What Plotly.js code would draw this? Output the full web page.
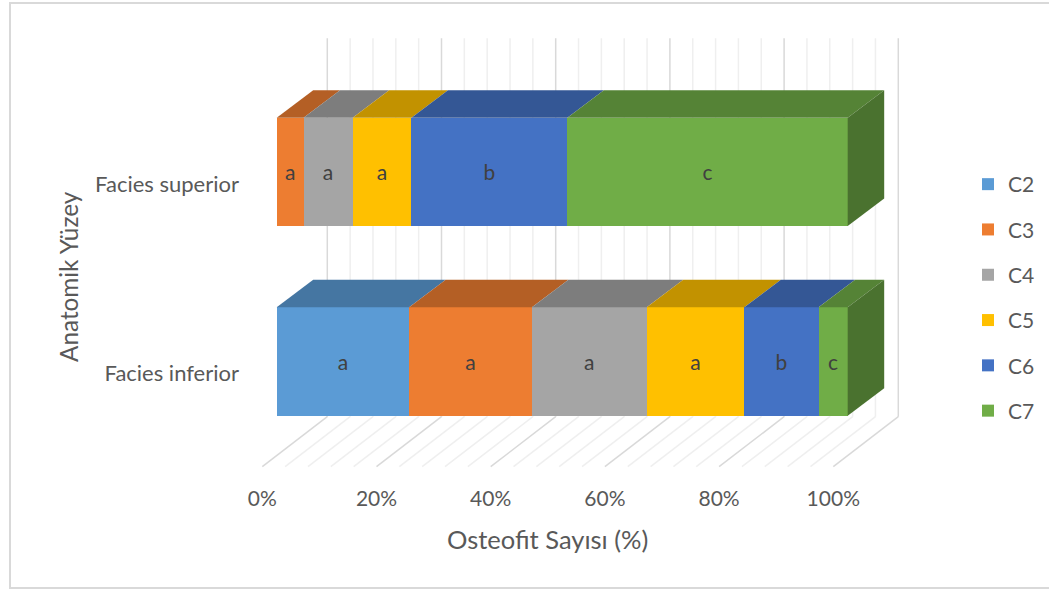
<!DOCTYPE html>
<html>
<head>
<meta charset="utf-8">
<script src="https://cdn.plot.ly/plotly-3.0.1.min.js"></script>
<style>
  html, body { margin: 0; padding: 0; background: #ffffff; overflow: hidden; }
  #chart { width: 1049px; height: 589px; }
</style>
</head>
<body>
<div id="chart"></div>
<script>
// ---- data -------------------------------------------------------------
const categories = ['Facies inferior', 'Facies superior'];
const seriesNames = ['C2', 'C3', 'C4', 'C5', 'C6', 'C7'];

// share of osteophytes (%) per anatomical surface
const c2 = [23.2, 0];
const c3 = [21.5, 4.7];
const c4 = [20.1, 8.6];
const c5 = [17.1, 10.3];
const c6 = [13.0, 27.3];
const c7 = [5.1, 49.1];

// significance letters shown on each segment
const c2Letters = ['a', ''];
const c3Letters = ['a', 'a'];
const c4Letters = ['a', 'a'];
const c5Letters = ['a', 'a'];
const c6Letters = ['b', 'b'];
const c7Letters = ['c', 'c'];

const xTickVals = [0, 20, 40, 60, 80, 100];
const xTickText = ['0%', '20%', '40%', '60%', '80%', '100%'];

const xTitle = 'Osteofit Sayısı (%)';
const yTitle = 'Anatomik Yüzey';

// ---- styling ------------------------------------------------------------
const series = [c2, c3, c4, c5, c6, c7];
const letters = [c2Letters, c3Letters, c4Letters, c5Letters, c6Letters, c7Letters];
const frontColors = ['#5B9BD5', '#ED7D31', '#A5A5A5', '#FFC000', '#4472C4', '#70AD47'];

function shade(hex, f) {
  const n = parseInt(hex.slice(1), 16);
  const r = Math.round(((n >> 16) & 255) * f);
  const g = Math.round(((n >> 8) & 255) * f);
  const b = Math.round((n & 255) * f);
  return 'rgb(' + r + ',' + g + ',' + b + ')';
}
const topColors = frontColors.map(c => shade(c, 0.76));
const sideColors = frontColors.map(c => shade(c, 0.66));

const FONT = 'Lato, "Open Sans", sans-serif';
const TEXT_GRAY = '#595959';

// ---- frame geometry (pixels) -----------------------------------------------
const W = 1049, H = 589;
const PLOT = { l: 250, r: 910, t: 30, b: 470 };
const FRONT_ZERO_PX = 276.7;      // 0 % on the bars' front plane
const PX_PER_PCT = 5.71;
const ROW0_PX = 361.5;            // centre of the first row's front face
const ROW_STEP_PX = 189.6;
const BAR_THICK_PX = 108.3;
const DEPTH_DX_PX = 36.5, DEPTH_DY_PX = 27.5;       // bar depth
const WALL_DX_PX = 50.6, WALL_TOP_PX = 38.3, WALL_BOTTOM_PX = 416.7;
const FLOOR_DX_PX = -14.4, FLOOR_FRONT_PX = 466.7;
const ROW_LABEL_SHIFT_PX = 12;

const xu = px => px / PX_PER_PCT;
const yAt = py => (ROW0_PX - py) / ROW_STEP_PX;
const paperX = px => (px - PLOT.l) / (PLOT.r - PLOT.l);
const paperY = py => (PLOT.b - py) / (PLOT.b - PLOT.t);

const xRange = [xu(PLOT.l - FRONT_ZERO_PX), xu(PLOT.r - FRONT_ZERO_PX)];
const yRange = [yAt(PLOT.b), yAt(PLOT.t)];
const barWidth = BAR_THICK_PX / ROW_STEP_PX;
const dX = xu(DEPTH_DX_PX), dY = DEPTH_DY_PX / ROW_STEP_PX;
const rowPos = categories.map((_, i) => i);

// ---- traces: front faces of the stacked bars ------------------------------
const traces = series.map((vals, s) => ({
  type: 'bar',
  orientation: 'h',
  name: seriesNames[s],
  legendgroup: seriesNames[s],
  y: rowPos,
  x: vals,
  width: barWidth,
  text: letters[s],
  textposition: 'inside',
  insidetextanchor: 'middle',
  textangle: 0,
  constraintext: 'none',
  textfont: { family: FONT, size: 21, color: '#404040' },
  marker: { color: frontColors[s], line: { width: 0 } },
  hoverinfo: 'skip'
}));

// ---- shapes: wall / floor grid, bar tops and end faces -----------------------
const shapes = [];

for (let v = 0; v <= 100; v += 4) {
  const major = v % 20 === 0;
  const col = major ? '#d9d9d9' : '#efefef';
  const xb = v + xu(WALL_DX_PX);
  shapes.push({ type: 'line', layer: 'below', xref: 'x', yref: 'y',
    x0: xb, x1: xb, y0: yAt(WALL_BOTTOM_PX), y1: yAt(WALL_TOP_PX),
    line: { color: col, width: 1.5 } });
  shapes.push({ type: 'line', layer: 'below', xref: 'x', yref: 'y',
    x0: xb, y0: yAt(WALL_BOTTOM_PX), x1: v + xu(FLOOR_DX_PX), y1: yAt(FLOOR_FRONT_PX),
    line: { color: col, width: 1.5 } });
}

rowPos.forEach(r => {
  let cum = 0, last = -1, lastEnd = 0;
  const yTop = r + barWidth / 2, yBot = r - barWidth / 2;
  series.forEach((vals, s) => {
    const v = vals[r];
    if (v > 0) {
      const x0 = cum, x1 = cum + v;
      shapes.push({ type: 'path', layer: 'above', xref: 'x', yref: 'y',
        path: 'M' + x0 + ',' + yTop + ' L' + x1 + ',' + yTop +
              ' L' + (x1 + dX) + ',' + (yTop + dY) + ' L' + (x0 + dX) + ',' + (yTop + dY) + ' Z',
        fillcolor: topColors[s], line: { width: 0 } });
      last = s; lastEnd = x1;
    }
    cum += v;
  });
  if (last >= 0) {
    shapes.push({ type: 'path', layer: 'above', xref: 'x', yref: 'y',
      path: 'M' + lastEnd + ',' + yBot + ' L' + lastEnd + ',' + yTop +
            ' L' + (lastEnd + dX) + ',' + (yTop + dY) + ' L' + (lastEnd + dX) + ',' + (yBot + dY) + ' Z',
      fillcolor: sideColors[last], line: { width: 0 } });
  }
});

// outer chart frame
shapes.push({ type: 'rect', xref: 'paper', yref: 'paper', layer: 'below',
  x0: paperX(10), x1: paperX(1070), y0: paperY(588), y1: paperY(3),
  line: { color: '#d9d9d9', width: 2 }, fillcolor: 'rgba(0,0,0,0)' });

// axis titles, centred on the floor's front edge and on the wall height
const annotations = [
  { text: xTitle, xref: 'paper', yref: 'paper',
    x: paperX(FRONT_ZERO_PX + FLOOR_DX_PX + 50 * PX_PER_PCT), y: paperY(539),
    xanchor: 'center', yanchor: 'middle', showarrow: false,
    font: { family: FONT, size: 25.5, color: TEXT_GRAY } },
  { text: yTitle, xref: 'paper', yref: 'paper',
    x: paperX(68), y: paperY(277), textangle: -90,
    xanchor: 'center', yanchor: 'middle', showarrow: false,
    font: { family: FONT, size: 24.3, color: TEXT_GRAY } }
];

// ---- layout ----------------------------------------------------------------
const labelShift = ROW_LABEL_SHIFT_PX / ROW_STEP_PX;
const layout = {
  width: W, height: H,
  margin: { l: PLOT.l, r: W - PLOT.r, t: PLOT.t, b: H - PLOT.b, pad: 0, autoexpand: false },
  paper_bgcolor: '#ffffff',
  plot_bgcolor: 'rgba(0,0,0,0)',
  font: { family: FONT, color: TEXT_GRAY },
  barmode: 'stack',
  showlegend: true,
  xaxis: { range: xRange, visible: false, fixedrange: true },
  yaxis: { range: yRange, visible: false, fixedrange: true },
  xaxis2: {
    overlaying: 'x', anchor: 'y', side: 'bottom',
    range: [xRange[0] - xu(FLOOR_DX_PX), xRange[1] - xu(FLOOR_DX_PX)],
    tickmode: 'array', tickvals: xTickVals, ticktext: xTickText,
    showgrid: false, zeroline: false, showline: false, ticks: '',
    ticklabelstandoff: 14,
    tickfont: { family: FONT, size: 21, color: TEXT_GRAY },
    fixedrange: true
  },
  yaxis2: {
    overlaying: 'y', anchor: 'x', side: 'left',
    range: [yRange[0] + labelShift, yRange[1] + labelShift],
    tickmode: 'array', tickvals: rowPos, ticktext: categories,
    showgrid: false, zeroline: false, showline: false, ticks: '',
    ticklabelstandoff: 10,
    tickfont: { family: FONT, size: 22, color: TEXT_GRAY },
    fixedrange: true
  },
  legend: {
    orientation: 'v',
    x: paperX(968), xanchor: 'left',
    y: paperY(164), yanchor: 'top',
    traceorder: 'grouped',
    tracegroupgap: 15,
    font: { family: FONT, size: 21, color: TEXT_GRAY },
    bgcolor: 'rgba(0,0,0,0)'
  },
  annotations: annotations,
  shapes: shapes
};

// a hidden trace keeps the overlaying axes bound to the subplot
traces.push({ type: 'scatter', x: [null], y: [null], xaxis: 'x2', yaxis: 'y2',
  showlegend: false, hoverinfo: 'skip' });

Plotly.newPlot('chart', traces, layout, { staticPlot: true, displayModeBar: false });
</script>
</body>
</html>
